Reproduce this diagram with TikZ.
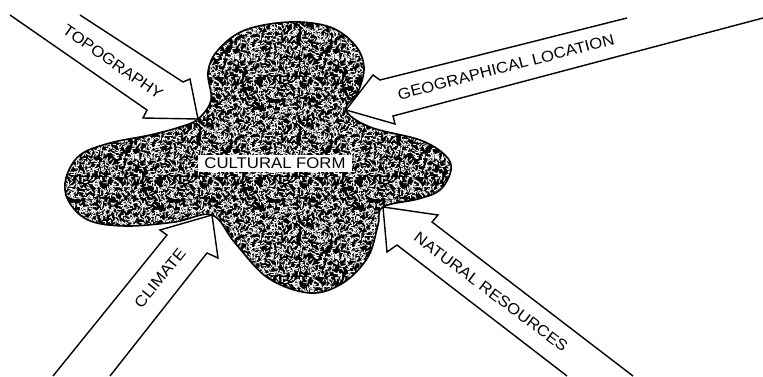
\documentclass[tikz,border=0pt]{standalone}
\usepackage{fontspec}
\setmainfont{Liberation Sans}
\newfontfamily\labfont[FakeStretch=1.08]{Liberation Sans}
\usetikzlibrary{patterns}
\pgfdeclarepatternformonly{speckle}{\pgfpointorigin}{\pgfqpoint{100pt}{100pt}}{\pgfqpoint{100pt}{100pt}}{%
  \pgfsetlinewidth{0.9pt}\pgfsetroundcap
  \pgfmathsetseed{11}%
  \foreach \i in {1,...,1500}{%
    \pgfmathsetmacro\xa{rnd*100}\pgfmathsetmacro\ya{rnd*100}\pgfmathsetmacro\an{rnd*360}%
    \pgfpathmoveto{\pgfpoint{\xa pt}{\ya pt}}%
    \pgfpathlineto{\pgfpointadd{\pgfpoint{\xa pt}{\ya pt}}{\pgfpointpolar{\an}{3pt}}}%
    \pgfusepath{stroke}%
  }%
}
\tikzset{
  lab/.style={font=\labfont\fontsize{15.5}{15.5}\selectfont, inner sep=0pt},
  arrowline/.style={line width=1.4pt, line join=miter},
  blobline/.style={line width=1.6pt}
}
\begin{document}
\begin{tikzpicture}[x=1pt,y=-1pt]
\useasboundingbox (0,0) rectangle (763,376);
\fill[white] (0,0) rectangle (763,376);
\def\blob{plot[smooth cycle, tension=0.6] coordinates {
 (198,119) (211,100) (208,72) (218,50) (245,30) (290,22) (330,27) (355,45) (364,67) (358,92) (346,110)
 (370,127) (420,140) (445,155) (451,170) (440,190) (418,199) (383,207)
 (378,225) (368,257) (343,283) (310,293) (268,278) (235,243) (212,215)
 (175,222) (125,226) (88,220) (68,200) (66,178) (80,155) (110,143) (150,135) (180,127)}}
\fill[black] \blob;
\fill[pattern=speckle, pattern color=white] \blob;
\draw[blobline] \blob;
% arrows
\draw[arrowline] (10,15) -- (147,110) -- (143,118) -- (198,119) -- (190,79) -- (183,82) -- (80,15);
\draw[arrowline] (627,18) -- (380,80) -- (373,75) -- (346,110) -- (395,124) -- (393,116) -- (763,18);
\draw[arrowline] (53,376) -- (167,235) -- (160,230) -- (212,215) -- (218,258) -- (207,253) -- (110,376);
\draw[arrowline] (633,376) -- (432,222) -- (438,215) -- (383,207) -- (387,252) -- (397,245) -- (567,376);
% labels
\node[lab, fill=white, minimum width=154pt, minimum height=17pt] (cf) at (275,163.5) {CULTURAL FORM};
\node[lab, rotate=-35] (topo) at (113,62) {TOPOGRAPHY};
\node[lab, rotate=14.5] (geo) at (506,67) {GEOGRAPHICAL LOCATION};
\node[lab, rotate=51] (clim) at (160,278) {CLIMATE};
\node[lab, rotate=-37] (nat) at (491,292) {NATURAL RESOURCES};
\end{tikzpicture}
\end{document}
